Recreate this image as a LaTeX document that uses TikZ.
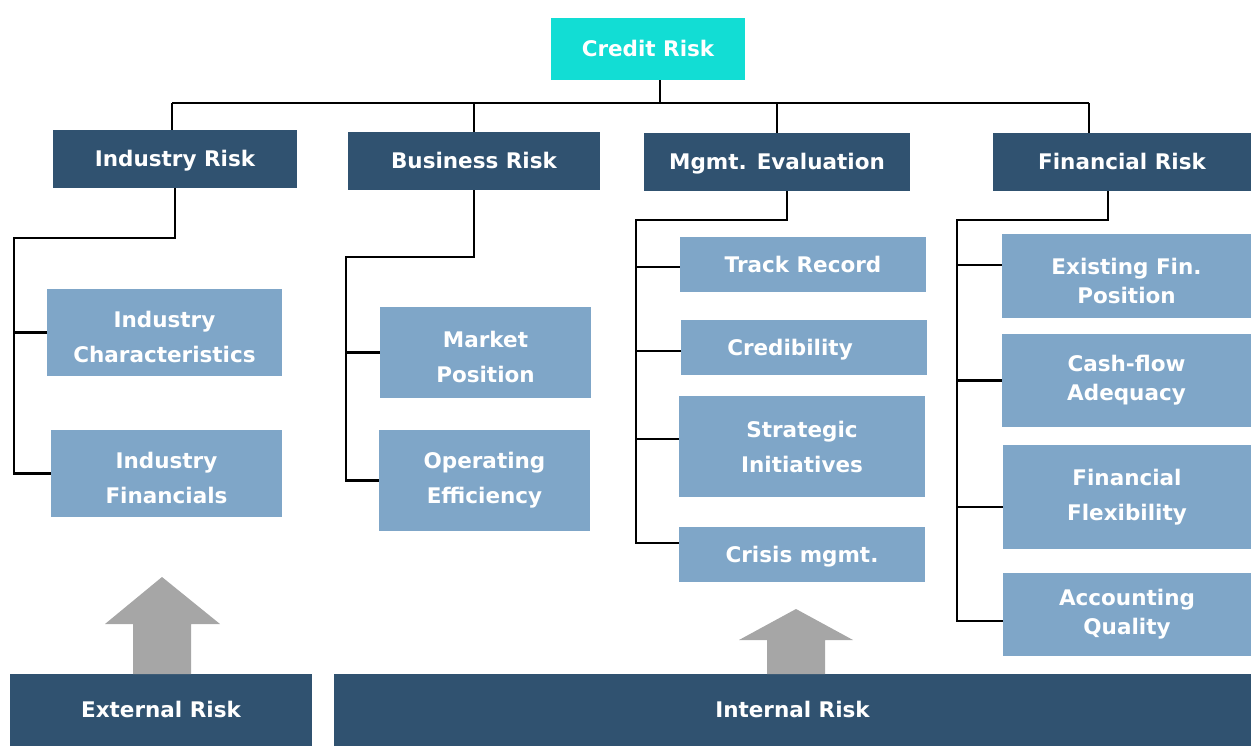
\documentclass[tikz,border=0pt]{standalone}
\usepackage{fontspec}
\setmainfont{DejaVu Sans}
\definecolor{darkblue}{HTML}{305270}
\definecolor{lightblue}{HTML}{7FA6C8}
\definecolor{topcyan}{HTML}{12DDD4}
\definecolor{arrowgray}{HTML}{A6A6A6}
\newcommand{\lowstrut}{\rule{0pt}{26pt}}
\tikzset{
  box/.style={rectangle, inner sep=0pt, text=white, align=center,
    font=\fontsize{21.5}{35}\selectfont\bfseries},
  oneline/.style={text height=15.5pt, text depth=0pt},
  topbox/.style={box, oneline, fill=topcyan},
  riskbox/.style={box, oneline, fill=darkblue},
  itembox/.style={box, fill=lightblue},
  itemline/.style={box, oneline, fill=lightblue},
  tight/.style={font=\fontsize{21.5}{29}\selectfont\bfseries},
  link/.style={line width=2.4pt},
  buslink/.style={line width=2pt},
  upfat/.style={fill=arrowgray},
}
\begin{document}
\begin{tikzpicture}[x=1pt,y=1pt,yscale=-1]
\useasboundingbox (0,0) rectangle (1251,746);

%top
\node[topbox, minimum width=194pt, minimum height=62pt] (credit) at (648,49) {Credit Risk};

%second row
\node[riskbox, minimum width=244pt, minimum height=58pt] (indrisk) at (175,159) {Industry Risk};
\node[riskbox, minimum width=252pt, minimum height=58pt] (busrisk) at (474,161) {Business Risk};
\node[riskbox, minimum width=266pt, minimum height=58pt] (mgmt) at (777,162) {Mgmt. Evaluation};
\node[riskbox, minimum width=258pt, minimum height=58pt] (finrisk) at (1122,162) {Financial Risk};

%industry items
\node[itembox, minimum width=235pt, minimum height=87pt] (indchar) at (164.5,332.5) {\lowstrut Industry\\Characteristics};
\node[itembox, minimum width=231pt, minimum height=87pt] (indfin) at (166.5,473.5) {\lowstrut Industry\\Financials};

%business items
\node[itembox, minimum width=211pt, minimum height=91pt] (mktpos) at (485.5,352.5) {\lowstrut Market\\Position};
\node[itembox, minimum width=211pt, minimum height=101pt] (opeff) at (484.5,480.5) {Operating\\Efficiency};

%management items
\node[itemline, minimum width=246pt, minimum height=55pt] (track) at (803,264.5) {Track Record};
\node[itemline, minimum width=246pt, minimum height=55pt] (cred) at (804,347.5) {\hspace{-28pt}Credibility};
\node[itembox, minimum width=246pt, minimum height=101pt] (strat) at (802,446.5) {Strategic\\Initiatives};
\node[itemline, minimum width=246pt, minimum height=55pt] (crisis) at (802,554.5) {Crisis mgmt.};

%financial items
\node[itembox, tight, minimum width=249pt, minimum height=84pt] (exist) at (1126.5,276) {\lowstrut Existing Fin.\\Position};
\node[itembox, tight, minimum width=249pt, minimum height=93pt] (cash) at (1126.5,380.5) {Cash-flow\\Adequacy};
\node[itembox, minimum width=248pt, minimum height=104pt] (flex) at (1127,497) {Financial\\Flexibility};
\node[itembox, tight, minimum width=248pt, minimum height=83pt] (acct) at (1127,614.5) {Accounting\\Quality};

%bottom
\node[riskbox, minimum width=302pt, minimum height=72pt] (ext) at (161,710) {External Risk};
\node[riskbox, minimum width=917pt, minimum height=72pt] (int) at (792.5,710) {Internal Risk};

%bus from credit risk
\coordinate (busL) at (172,103);
\coordinate (busR) at (1089,103);
\coordinate (creditdrop) at ([xshift=12pt]credit.south);
\draw[buslink] (creditdrop) -- (creditdrop |- busL);
\draw[buslink] (busL) -- (busR);
\draw[buslink] (busL) -- (busL |- indrisk.north);
\draw[buslink] (busrisk.north |- busL) -- (busrisk.north);
\draw[buslink] (mgmt.north |- busL) -- (mgmt.north);
\draw[buslink] (busR) -- (busR |- finrisk.north);

%industry branch
\coordinate (indspine) at (14,238);
\draw[link] (indrisk.south) |- (indspine) -- (indspine |- indfin.west) -- (indfin.west);
\draw[link] (indspine |- indchar.west) -- (indchar.west);

%business branch
\coordinate (busspine) at (346,257);
\draw[link] (busrisk.south) |- (busspine) -- (busspine |- opeff.west) -- (opeff.west);
\draw[link] (busspine |- mktpos.west) -- (mktpos.west);

%management branch
\coordinate (mgmtspine) at (636,220);
\coordinate (mgmtout) at ([xshift=10pt]mgmt.south);
\coordinate (trackin) at ([yshift=2.5pt]track.west);
\coordinate (credin) at ([yshift=3.5pt]cred.west);
\coordinate (stratin) at ([yshift=-7.5pt]strat.west);
\coordinate (crisisin) at ([yshift=-11.5pt]crisis.west);
\draw[link] (mgmtout) |- (mgmtspine) -- (mgmtspine |- crisisin) -- (crisisin);
\draw[link] (mgmtspine |- trackin) -- (trackin);
\draw[link] (mgmtspine |- credin) -- (credin);
\draw[link] (mgmtspine |- stratin) -- (stratin);

%financial branch
\coordinate (finspine) at (957,220);
\coordinate (finout) at ([xshift=-14pt]finrisk.south);
\coordinate (existin) at ([yshift=-11pt]exist.west);
\coordinate (flexin) at ([yshift=10pt]flex.west);
\coordinate (acctin) at ([yshift=6.5pt]acct.west);
\draw[link] (finout) |- (finspine) -- (finspine |- acctin) -- (acctin);
\draw[link] (finspine |- existin) -- (existin);
\draw[link] (finspine |- cash.west) -- (cash.west);
\draw[link] (finspine |- flexin) -- (flexin);

%up arrows
\fill[upfat] (133,674) -- (133,624) -- (105,624) -- (162,577) -- (220,624) -- (191,624) -- (191,674) -- cycle;
\fill[upfat] (767,674) -- (767,640) -- (739,640) -- (796,609) -- (853,640) -- (825,640) -- (825,674) -- cycle;

\end{tikzpicture}
\end{document}
